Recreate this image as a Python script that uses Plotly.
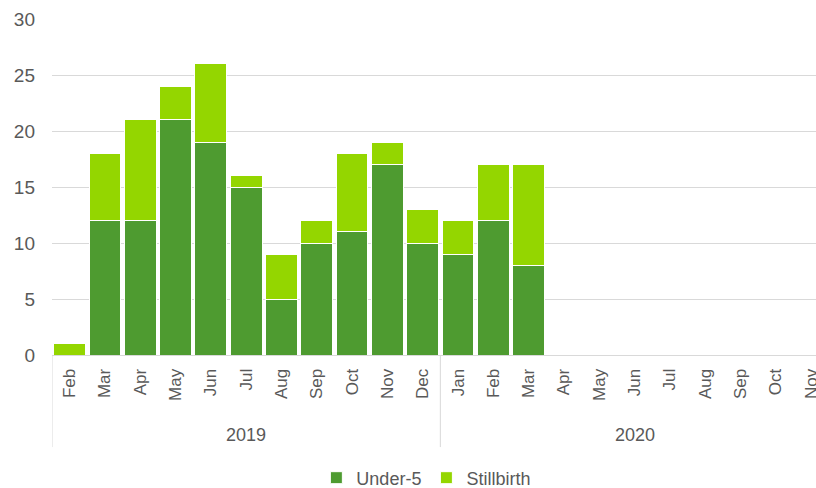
import plotly.graph_objects as go

years = ["2019", "2020"]
months_2019 = ["Feb", "Mar", "Apr", "May", "Jun", "Jul", "Aug", "Sep", "Oct", "Nov", "Dec"]
months_2020 = ["Jan", "Feb", "Mar", "Apr", "May", "Jun", "Jul", "Aug", "Sep", "Oct", "Nov"]
under5 = [0, 12, 12, 21, 19, 15, 5, 10, 11, 17, 10, 9, 12, 8, None, None, None, None, None, None, None, None]
stillbirth = [1, 6, 9, 3, 7, 1, 4, 2, 7, 2, 3, 3, 5, 9, None, None, None, None, None, None, None, None]

months = months_2019 + months_2020
xs = list(range(len(months)))
grey = "#595959"
font = "Liberation Sans, Arial, sans-serif"

fig = go.Figure()
fig.add_trace(go.Bar(name="Under-5", x=xs, y=under5, marker_color="#4E9B30",
                     marker_line=dict(color="white", width=1)))
fig.add_trace(go.Bar(name="Stillbirth", x=xs, y=stillbirth, marker_color="#94D600",
                     marker_line=dict(color="white", width=1)))

# year group dividers and labels under the month ticks
n19 = len(months_2019)
for b in [-0.5, n19 - 0.5]:
    fig.add_shape(type="line", xref="x", yref="paper", x0=b, x1=b, y0=0, y1=-0.274,
                  line=dict(color="#D9D9D9", width=1))
for yr, lo, hi in [(years[0], 0, n19 - 1), (years[1], n19, len(months) - 1)]:
    fig.add_annotation(text=yr, x=(lo + hi) / 2, xref="x", y=-0.238, yref="paper",
                       showarrow=False, font=dict(size=18, color=grey), yanchor="middle")

fig.update_layout(
    barmode="stack",
    bargap=0.1,
    width=816, height=488,
    margin=dict(l=52, r=0, t=19, b=133, autoexpand=False),
    plot_bgcolor="white", paper_bgcolor="white",
    font=dict(family=font, size=18, color=grey),
    showlegend=True,
    legend=dict(orientation="h", x=0.49, xanchor="center", y=-0.366, yanchor="middle",
                traceorder="normal", itemwidth=30, font=dict(size=18, color=grey)),
    xaxis=dict(tickmode="array", tickvals=xs, ticktext=months, tickangle=-90,
               range=[-0.5, 21.14], showline=True, linecolor="#D9D9D9", ticks="",
               showgrid=False, automargin=False, ticklabelstandoff=6,
               ticklabeloverflow="allow", tickfont=dict(size=17, color=grey)),
    yaxis=dict(range=[0, 30], dtick=5, gridcolor="#D9D9D9", zeroline=False,
               ticks="", automargin=False, ticklabelstandoff=16,
               tickfont=dict(size=19, color=grey)),
)

# make the page exactly the figure size (no body margin, no extra height)
post = (
    "document.body.style.margin='0';"
    "document.body.style.overflow='hidden';"
    "var gd=document.getElementById('{plot_id}');"
    "gd.parentElement.style.height='488px';"
    "gd.parentElement.style.overflow='hidden';"
)
fig.write_html("out.html", config={"displayModeBar": False}, post_script=post)
